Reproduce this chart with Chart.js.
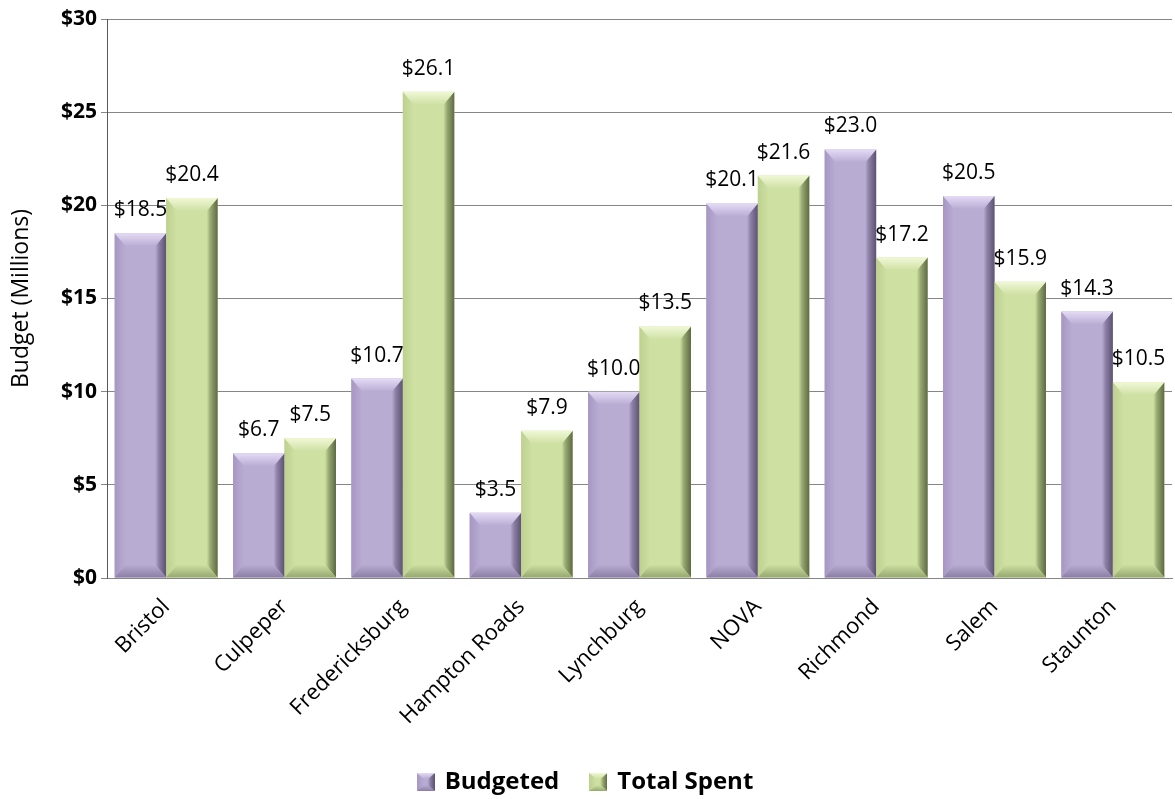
<!DOCTYPE html>
<html>
<head>
<meta charset="utf-8">
<script src="https://cdn.jsdelivr.net/npm/chart.js@4.4.1/dist/chart.umd.min.js"></script>
<style>
  html, body { margin: 0; padding: 0; background: #fff; }
  #wrap { width: 1175px; height: 799px; }
</style>
</head>
<body>
<div id="wrap"><canvas id="grafico" width="1175" height="799"></canvas></div>
<script>
const regiones = ['Bristol', 'Culpeper', 'Fredericksburg', 'Hampton Roads', 'Lynchburg', 'NOVA', 'Richmond', 'Salem', 'Staunton'];
const presupuestado = [18.5, 6.7, 10.7, 3.5, 10.0, 20.1, 23.0, 20.5, 14.3];
const gastado = [20.4, 7.5, 26.1, 7.9, 13.5, 21.6, 17.2, 15.9, 10.5];
const marcasY = [0, 5, 10, 15, 20, 25, 30];

const FUENTE = "'Open Sans', 'Noto Sans', sans-serif";

// colores de cada serie: cara, arriba, abajo, izquierda, derecha
const tonos = {
    morado: { cara: '#b9acd3', arriba: '#e4dbf5', abajo: '#8c7fa6', izq: '#a697c3', der: '#5c5270' },
    verde:  { cara: '#cfe0a3', arriba: '#f0f8d6', abajo: '#97a870', izq: '#bdd18f', der: '#5d6944' }
};

function bisel(ctx, left, top, right, bottom, t, s, c) {
    const poly = (pts, fill) => {
        ctx.beginPath();
        ctx.moveTo(pts[0][0], pts[0][1]);
        for (let i = 1; i < pts.length; i++) ctx.lineTo(pts[i][0], pts[i][1]);
        ctx.closePath();
        ctx.fillStyle = fill;
        ctx.fill();
    };
    const h = bottom - top;
    const tt = Math.min(t, h / 3), sb = Math.min(t, h / 3);
    // lado izquierdo
    let g = ctx.createLinearGradient(left, 0, left + s, 0);
    g.addColorStop(0, c.izq);
    g.addColorStop(1, c.cara);
    poly([[left, top], [left + s, top + tt], [left + s, bottom - sb], [left, bottom]], g);
    // lado derecho
    g = ctx.createLinearGradient(right - s, 0, right, 0);
    g.addColorStop(0, c.cara);
    g.addColorStop(0.35, c.abajo);
    g.addColorStop(1, c.der);
    poly([[right, top], [right - s, top + tt], [right - s, bottom - sb], [right, bottom]], g);
    // arriba
    g = ctx.createLinearGradient(0, top, 0, top + tt);
    g.addColorStop(0, c.arriba);
    g.addColorStop(1, c.cara);
    poly([[left, top], [right, top], [right - s, top + tt], [left + s, top + tt]], g);
    // abajo
    g = ctx.createLinearGradient(0, bottom - sb, 0, bottom);
    g.addColorStop(0, c.cara);
    g.addColorStop(1, c.abajo);
    poly([[left, bottom], [right, bottom], [right - s, bottom - sb], [left + s, bottom - sb]], g);
}

// cuadrito con bisel para la leyenda
function iconoLeyenda(c) {
    const cv = document.createElement('canvas');
    cv.width = 18; cv.height = 18;
    const cx = cv.getContext('2d');
    cx.fillStyle = c.cara;
    cx.fillRect(0, 0, 18, 18);
    bisel(cx, 0, 0, 18, 18, 7, 7, c);
    return cv;
}

const pluginBisel = {
    id: 'bisel',
    afterDatasetsDraw(chart) {
        const ctx = chart.ctx;
        chart.data.datasets.forEach((ds, i) => {
            const meta = chart.getDatasetMeta(i);
            const c = ds.tono;
            meta.data.forEach((bar, j) => {
                const left = bar.x - bar.width / 2, right = bar.x + bar.width / 2;
                ctx.save();
                bisel(ctx, left, bar.y, right, bar.base, 13, 11, c);
                ctx.restore();
                // etiqueta con el valor
                ctx.save();
                ctx.font = '21px ' + FUENTE;
                ctx.fillStyle = '#000';
                ctx.textAlign = 'center';
                ctx.textBaseline = 'alphabetic';
                ctx.fillText('$' + ds.data[j].toFixed(1), bar.x, bar.y - 17);
                ctx.restore();
            });
        });
    }
};

const ctx = document.getElementById('grafico').getContext('2d');
window.chart = new Chart(ctx, {
    type: 'bar',
    data: {
        labels: regiones,
        datasets: [{
            label: 'Budgeted',
            data: presupuestado,
            backgroundColor: tonos.morado.cara,
            borderWidth: 0,
            tono: tonos.morado,
            pointStyle: iconoLeyenda(tonos.morado)
        }, {
            label: 'Total Spent',
            data: gastado,
            backgroundColor: tonos.verde.cara,
            borderWidth: 0,
            tono: tonos.verde,
            pointStyle: iconoLeyenda(tonos.verde)
        }]
    },
    options: {
        responsive: false,
        animation: false,
        devicePixelRatio: 1,
        categoryPercentage: 0.87,
        barPercentage: 1.0,
        layout: { padding: { top: 19, right: 3, left: 0, bottom: -5 } },
        plugins: {
            tooltip: { enabled: false },
            legend: {
                position: 'bottom',
                labels: {
                    usePointStyle: true,
                    pointStyleWidth: 14,
                    color: '#000',
                    font: { family: FUENTE, size: 24, weight: 'bold' },
                    padding: 32
                }
            }
        },
        scales: {
            x: {
                grid: { display: false, drawTicks: false },
                border: { color: '#868686', width: 1 },
                ticks: {
                    color: '#000',
                    font: { family: FUENTE, size: 22 },
                    minRotation: 45,
                    maxRotation: 45,
                    padding: 16
                },
                afterFit(scale) { scale.height = 160; }
            },
            y: {
                min: 0,
                max: 30,
                afterBuildTicks(scale) { scale.ticks = marcasY.map(v => ({ value: v })); },
                grid: { color: '#868686', lineWidth: 1, tickLength: 6 },
                border: { color: '#595959', width: 1 },
                ticks: {
                    color: '#000',
                    font: { family: FUENTE, size: 21, weight: 'bold' },
                    padding: 4,
                    callback: v => '$' + v
                },
                title: {
                    display: true,
                    text: 'Budget (Millions)',
                    color: '#000',
                    font: { family: FUENTE, size: 23 },
                    padding: { top: 8, bottom: 4 }
                },
                afterFit(scale) { scale.width = 107; }
            }
        }
    },
    plugins: [pluginBisel]
});
</script>
</body>
</html>
